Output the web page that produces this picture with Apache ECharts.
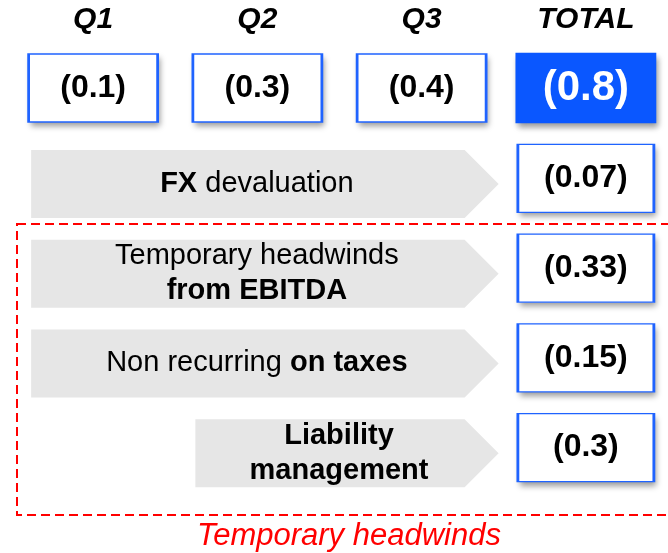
<!DOCTYPE html>
<html>
<head>
<meta charset="utf-8">
<script src="https://cdn.jsdelivr.net/npm/echarts@6/dist/echarts.min.js"></script>
<style>
  html, body { margin: 0; padding: 0; background: #fff; }
  #main { width: 668px; height: 553px; }
</style>
</head>
<body>
<div id="main"></div>
<script>
// -- data --
const quarters = ['Q1', 'Q2', 'Q3', 'TOTAL'];
const quarterValues = [0.1, 0.3, 0.4, 0.8];

const drivers = ['FX devaluation', 'Temporary headwinds from EBITDA', 'Non recurring on taxes', 'Liability management'];
const driverLabels = ['{b|FX} devaluation', 'Temporary headwinds\n{b|from EBITDA}', 'Non recurring {b|on taxes}', '{b|Liability}\n{b|management}'];
const driverValues = [0.07, 0.33, 0.15, 0.3];
const driverStart = ['Q1', 'Q1', 'Q1', 'Q2']; // column where each arrow begins
const groupTitle = 'Temporary headwinds';

const FONT = "'Liberation Sans', Arial, sans-serif";
const BLUE = '#0a57ff';

function fmt(v) {
  return '(' + v + ')';
}

// box series; shadow=true gives the soft drop shadow drawn under the box
function boxSeries(axis, data, size, offset, shadow) {
  return {
    type: 'scatter',
    xAxisIndex: axis,
    yAxisIndex: axis,
    symbol: 'rect',
    symbolSize: size,
    symbolOffset: offset,
    emphasis: {disabled: true},
    itemStyle: shadow ? {
      color: '#fff',
      opacity: 1,
      shadowBlur: 6,
      shadowOffsetX: 2,
      shadowOffsetY: 4,
      shadowColor: 'rgba(0,0,0,0.4)'
    } : {
      color: '#fff',
      opacity: 1,
      borderColor: '#1f63ff',
      borderWidth: 2
    },
    label: {
      show: !shadow,
      position: 'inside',
      fontFamily: FONT,
      fontSize: 32,
      fontWeight: 'bold',
      color: '#000',
      formatter: p => fmt(p.value[2])
    },
    data: data,
    z: shadow ? 3 : 4
  };
}

// arrows with the driver text in them
function renderArrow(params, api) {
  const row = api.value(1);
  const a = api.coord([api.value(0), row]);
  const end = api.coord([2, row]);
  const h = 68, half = h / 2;
  const x0 = a[0] - 62;
  const tip = end[0] + 77;
  const y = a[1];
  return {
    type: 'group',
    children: [{
      type: 'polygon',
      shape: {
        points: [[x0, y - half], [tip - half, y - half], [tip, y], [tip - half, y + half], [x0, y + half]]
      },
      style: {fill: '#e6e6e6'}
    }, {
      type: 'text',
      x: (x0 + tip) / 2 - 8,
      y: y,
      style: {
        text: driverLabels[params.dataIndex],
        fontFamily: FONT,
        fontSize: 29,
        lineHeight: 35,
        fill: '#000',
        align: 'center',
        verticalAlign: 'middle',
        rich: {
          b: {fontFamily: FONT, fontSize: 29, fontWeight: 'bold', lineHeight: 35, fill: '#000'}
        }
      }
    }]
  };
}

const quarterData = quarterValues.map((v, i) => {
  let item = {value: [quarters[i], 0, v]};
  if (quarters[i] === 'TOTAL') {
    item.symbolSize = [138, 69];
    item.itemStyle = {color: BLUE, borderColor: BLUE};
    item.label = {fontSize: 42, color: '#fff'};
  }
  return item;
});
const driverData = driverValues.map((v, i) => ['TOTAL', i, v]);

let option = {
  animation: false,
  grid: [
    {left: 11, width: 663, top: 54, height: 68},
    {left: 11, width: 663, top: 139, height: 359}
  ],
  xAxis: [{
    gridIndex: 0,
    type: 'category',
    position: 'top',
    data: quarters,
    axisLine: {show: false},
    axisTick: {show: false},
    axisLabel: {
      margin: 19,
      fontFamily: FONT,
      fontSize: 30,
      fontWeight: 'bold',
      fontStyle: 'italic',
      color: '#000'
    }
  }, {
    gridIndex: 1,
    type: 'category',
    data: quarters,
    show: false
  }],
  yAxis: [{
    gridIndex: 0,
    type: 'category',
    data: ['value'],
    show: false
  }, {
    gridIndex: 1,
    type: 'category',
    data: drivers,
    inverse: true,
    show: false
  }],
  graphic: [{
    type: 'rect',
    shape: {x: 17, y: 224, width: 662, height: 291},
    style: {fill: 'none', stroke: '#ff0000', lineWidth: 2, lineDash: [9, 5]},
    z: 1
  }, {
    type: 'text',
    x: 349,
    y: 536,
    style: {
      text: groupTitle,
      fontFamily: FONT,
      fontSize: 31,
      fontStyle: 'italic',
      fill: '#ff0000',
      align: 'center',
      verticalAlign: 'middle'
    }
  }],
  series: [
    boxSeries(0, quarterData, [129, 68], [0, 0], true),
    boxSeries(0, quarterData, [129, 68], [0, 0], false),
    {
      // arrows
      type: 'custom',
      xAxisIndex: 1,
      yAxisIndex: 1,
      renderItem: renderArrow,
      data: driverStart.map((s, i) => [s, i]),
      z: 2
    },
    boxSeries(1, driverData, [136, 68], [0, -5.5], true),
    boxSeries(1, driverData, [136, 68], [0, -5.5], false)
  ]
};

let myChart = echarts.init(document.getElementById('main'));
myChart.setOption(option);
</script>
</body>
</html>
